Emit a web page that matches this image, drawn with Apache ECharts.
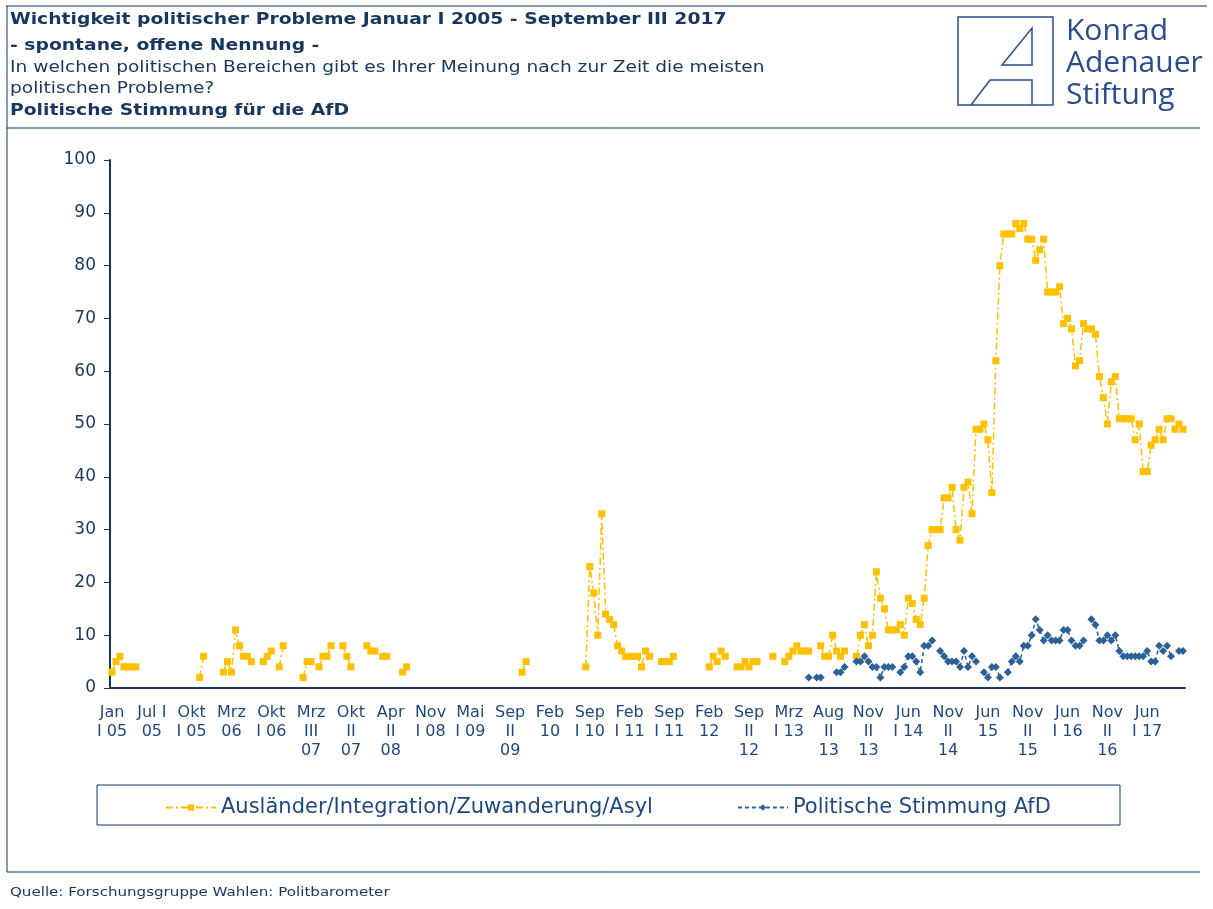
<!DOCTYPE html>
<html>
<head>
<meta charset="utf-8">
<title>Wichtigkeit politischer Probleme</title>
<script src="https://cdn.jsdelivr.net/npm/echarts@6/dist/echarts.min.js"></script>
<style>
  html, body { margin: 0; padding: 0; background: #fff; }
  #chart { width: 1213px; height: 909px; }
</style>
</head>
<body>
<div id="chart"></div>
<script>
// Beschriftung jeder 10. Umfrage (Politbarometer), Jan I 2005 - Sep III 2017
const tickLabels = [
  'Jan\nI 05', 'Jul I\n05', 'Okt\nI 05', 'Mrz\n06', 'Okt\nI 06', 'Mrz\nIII\n07',
  'Okt\nII\n07', 'Apr\nII\n08', 'Nov\nI 08', 'Mai\nI 09', 'Sep\nII\n09', 'Feb\n10',
  'Sep\nI 10', 'Feb\nI 11', 'Sep\nI 11', 'Feb\n12', 'Sep\nII\n12', 'Mrz\nI 13',
  'Aug\nII\n13', 'Nov\nII\n13', 'Jun\nI 14', 'Nov\nII\n14', 'Jun\n15', 'Nov\nII\n15',
  'Jun\nI 16', 'Nov\nII\n16', 'Jun\nI 17'
];
const surveyCount = 270;

const _ = null;
// Ausländer/Integration/Zuwanderung/Asyl, in %, eine Zeile = 10 Umfragen
const auslaender = [
  3, 5, 6, 4, 4, 4, 4, _, _, _,
  _, _, _, _, _, _, _, _, _, _,
  _, _, 2, 6, _, _, _, _, 3, 5,
  3, 11, 8, 6, 6, 5, _, _, 5, 6,
  7, _, 4, 8, _, _, _, _, 2, 5,
  5, _, 4, 6, 6, 8, _, _, 8, 6,
  4, _, _, _, 8, 7, 7, _, 6, 6,
  _, _, _, 3, 4, _, _, _, _, _,
  _, _, _, _, _, _, _, _, _, _,
  _, _, _, _, _, _, _, _, _, _,
  _, _, _, 3, 5, _, _, _, _, _,
  _, _, _, _, _, _, _, _, _, 4,
  23, 18, 10, 33, 14, 13, 12, 8, 7, 6,
  6, 6, 6, 4, 7, 6, _, _, 5, 5,
  5, 6, _, _, _, _, _, _, _, _,
  4, 6, 5, 7, 6, _, _, 4, 4, 5,
  4, 5, 5, _, _, _, 6, _, _, 5,
  6, 7, 8, 7, 7, 7, _, _, 8, 6,
  6, 10, 7, 6, 7, _, _, 6, 10, 12,
  8, 10, 22, 17, 15, 11, 11, 11, 12, 10,
  17, 16, 13, 12, 17, 27, 30, 30, 30, 36,
  36, 38, 30, 28, 38, 39, 33, 49, 49, 50,
  47, 37, 62, 80, 86, 86, 86, 88, 87, 88,
  85, 85, 81, 83, 85, 75, 75, 75, 76, 69,
  70, 68, 61, 62, 69, 68, 68, 67, 59, 55,
  50, 58, 59, 51, 51, 51, 51, 47, 50, 41,
  41, 46, 47, 49, 47, 51, 51, 49, 50, 49
];
// Politische Stimmung AfD, in %
const afd = [
  _, _, _, _, _, _, _, _, _, _,
  _, _, _, _, _, _, _, _, _, _,
  _, _, _, _, _, _, _, _, _, _,
  _, _, _, _, _, _, _, _, _, _,
  _, _, _, _, _, _, _, _, _, _,
  _, _, _, _, _, _, _, _, _, _,
  _, _, _, _, _, _, _, _, _, _,
  _, _, _, _, _, _, _, _, _, _,
  _, _, _, _, _, _, _, _, _, _,
  _, _, _, _, _, _, _, _, _, _,
  _, _, _, _, _, _, _, _, _, _,
  _, _, _, _, _, _, _, _, _, _,
  _, _, _, _, _, _, _, _, _, _,
  _, _, _, _, _, _, _, _, _, _,
  _, _, _, _, _, _, _, _, _, _,
  _, _, _, _, _, _, _, _, _, _,
  _, _, _, _, _, _, _, _, _, _,
  _, _, _, _, _, 2, _, 2, 2, _,
  _, _, 3, 3, 4, _, _, 5, 5, 6,
  5, 4, 4, 2, 4, 4, 4, _, 3, 4,
  6, 6, 5, 3, 8, 8, 9, _, 7, 6,
  5, 5, 5, 4, 7, 4, 6, 5, _, 3,
  2, 4, 4, 2, _, 3, 5, 6, 5, 8,
  8, 10, 13, 11, 9, 10, 9, 9, 9, 11,
  11, 9, 8, 8, 9, _, 13, 12, 9, 9,
  10, 9, 10, 7, 6, 6, 6, 6, 6, 6,
  7, 5, 5, 8, 7, 8, 6, _, 7, 7
];

const categories = [];
for (let i = 0; i < surveyCount; i++) {
  categories.push(i % 10 === 0 ? tickLabels[i / 10] : '');
}

const navy = '#17375e';
const textBlue = '#1f497d';
const logoBlue = '#2a4d8c';
const gelb = '#ffc000';
const blau = '#2c6099';

// Kopf- und Fußtexte, etwas in die Breite gezogen wie im Original
function headText(text, y, bold, size, stretch) {
  return {
    type: 'text',
    x: 10,
    y: y,
    scaleX: stretch,
    style: {
      text: text,
      x: 0,
      y: 0,
      verticalAlign: 'middle',
      font: (bold ? 'bold ' : '') + size + 'px "DejaVu Sans"',
      fill: navy
    }
  };
}

function logoText(text, y) {
  return {
    type: 'text',
    x: 1066,
    y: y,
    style: { text: text, x: 0, y: 0, verticalAlign: 'middle', font: '30px "Open Sans"', fill: logoBlue }
  };
}

var myChart = echarts.init(document.getElementById('chart'));

myChart.setOption({
  animation: false,
  textStyle: { fontFamily: 'DejaVu Sans' },
  grid: { left: 110, right: 28, top: 160, bottom: 221 },
  legend: {
    left: 160,
    top: 792,
    itemGap: 84,
    itemWidth: 50,
    itemHeight: 8,
    textStyle: { fontSize: 21, color: textBlue, fontFamily: 'DejaVu Sans' },
    data: ['Ausländer/Integration/Zuwanderung/Asyl', 'Politische Stimmung AfD']
  },
  xAxis: {
    type: 'category',
    data: categories,
    boundaryGap: true,
    axisLine: { lineStyle: { color: navy, width: 2 } },
    axisTick: { interval: 0, length: 5, lineStyle: { color: navy } },
    axisLabel: {
      interval: 9,
      color: textBlue,
      fontSize: 16,
      lineHeight: 19,
      margin: 15
    }
  },
  yAxis: {
    type: 'value',
    min: 0,
    max: 100,
    interval: 10,
    splitLine: { show: false },
    axisLine: { show: true, lineStyle: { color: navy, width: 2 } },
    axisTick: { show: true, length: 6, lineStyle: { color: navy } },
    axisLabel: { color: navy, fontSize: 17, margin: 14 }
  },
  series: [
    {
      name: 'Ausländer/Integration/Zuwanderung/Asyl',
      type: 'line',
      data: auslaender,
      connectNulls: false,
      showAllSymbol: true,
      symbol: 'rect',
      symbolSize: 7,
      itemStyle: { color: gelb },
      lineStyle: { color: gelb, width: 1.5, type: [7, 3, 2, 3] }
    },
    {
      name: 'Politische Stimmung AfD',
      type: 'line',
      data: afd,
      connectNulls: false,
      showAllSymbol: true,
      symbol: 'diamond',
      symbolSize: 8,
      itemStyle: { color: blau },
      lineStyle: { color: blau, width: 1.5, type: [4, 3] }
    }
  ],
  graphic: [
    // Rahmen
    { type: 'line', shape: { x1: 6, y1: 6, x2: 1207, y2: 6 }, style: { stroke: navy, lineWidth: 1 } },
    { type: 'line', shape: { x1: 7, y1: 6, x2: 7, y2: 872 }, style: { stroke: navy, lineWidth: 1 } },
    { type: 'line', shape: { x1: 7, y1: 128, x2: 1200, y2: 128 }, style: { stroke: navy, lineWidth: 1 } },
    { type: 'line', shape: { x1: 7, y1: 872, x2: 1200, y2: 872 }, style: { stroke: navy, lineWidth: 1 } },
    // Kopf
    headText('Wichtigkeit politischer Probleme Januar I 2005 - September III 2017', 20, true, 15, 1.25),
    headText('- spontane, offene Nennung -', 46, true, 15, 1.25),
    headText('In welchen politischen Bereichen gibt es Ihrer Meinung nach zur Zeit die meisten', 68, false, 15, 1.24),
    headText('politischen Probleme?', 89, false, 15, 1.24),
    headText('Politische Stimmung für die AfD', 111, true, 15, 1.25),
    // Logo
    { type: 'rect', shape: { x: 958, y: 17, width: 95, height: 88 }, style: { stroke: logoBlue, fill: 'none', lineWidth: 1.5 } },
    { type: 'polygon', shape: { points: [[1002, 65], [1032, 28], [1032, 65]] }, style: { stroke: logoBlue, fill: 'none', lineWidth: 1.5 } },
    { type: 'polyline', shape: { points: [[971, 105], [990, 80], [1032, 80], [1032, 105]] }, style: { stroke: logoBlue, fill: 'none', lineWidth: 1.5 } },
    logoText('Konrad', 31),
    logoText('Adenauer', 63),
    logoText('Stiftung', 95),
    // Legendenrahmen
    { type: 'rect', shape: { x: 97, y: 785, width: 1023, height: 40 }, style: { stroke: navy, fill: 'none', lineWidth: 1 } },
    // Quelle
    headText('Quelle: Forschungsgruppe Wahlen: Politbarometer', 893, false, 13, 1.16)
  ]
});

window.onresize = function () {
  myChart.resize();
};
</script>
</body>
</html>
